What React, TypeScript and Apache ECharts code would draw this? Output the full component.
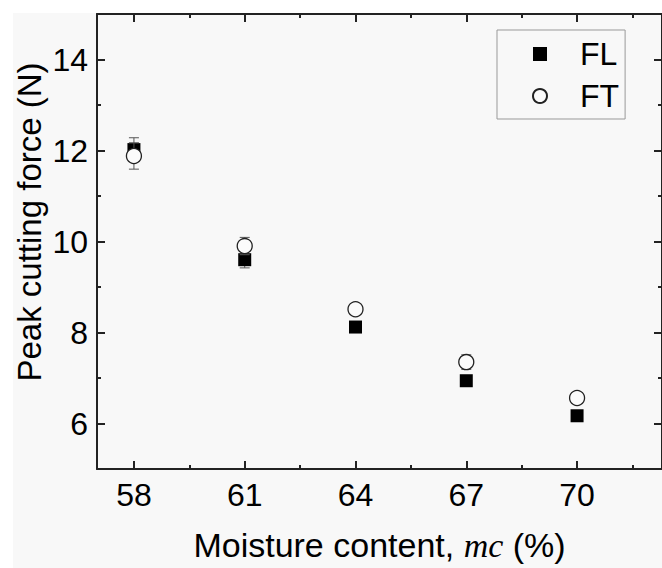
import React, { useEffect, useRef } from "react";
import * as echarts from "echarts";

const moisture = [58, 61, 64, 67, 70];
const flMean = [12.02, 9.6, 8.12, 6.94, 6.17];
const flErr = [0.26, 0.18, 0.05, 0.05, 0.04];
const ftMean = [11.88, 9.9, 8.51, 7.35, 6.56];
const ftErr = [0.29, 0.19, 0.06, 0.16, 0.12];
const xMajorTicks = [58, 61, 64, 67, 70];
const xMinorTicks = [59.5, 62.5, 65.5, 68.5, 71.5];
const yMajorTicks = [6, 8, 10, 12, 14];
const yMinorTicks = [5, 7, 9, 11, 13, 15];

const FONT = "'Liberation Sans', Arial, sans-serif";
const AXIS_COLOR = "#222";

export default function App() {
  const ref = useRef<HTMLDivElement>(null);
  useEffect(() => {
    if (!ref.current) return;
    const chart = echarts.init(ref.current, null, { renderer: "svg" });
    const xBase = { type: "value", min: 57, max: 72.3, splitLine: { show: false } };
    const yBase = { type: "value", min: 5, max: 15, splitLine: { show: false } };
    const line = { show: true, lineStyle: { color: AXIS_COLOR, width: 2 } };
    const noLine = { show: false };
    const major = (vals: number[]) => ({
      show: true,
      inside: true,
      length: 8,
      customValues: vals,
      lineStyle: { color: AXIS_COLOR, width: 2 },
    });
    const minor = (vals: number[]) => ({
      show: true,
      inside: true,
      length: 4,
      customValues: vals,
      lineStyle: { color: AXIS_COLOR, width: 2 },
    });
    const errData = (means: number[], errs: number[]) =>
      moisture.map((x, i) => [x, means[i], errs[i]]);
    const errSeries = (name: string, means: number[], errs: number[], z: number) => ({
      type: "custom",
      name: name + "-err",
      xAxisIndex: 0,
      yAxisIndex: 0,
      z,
      silent: true,
      data: errData(means, errs),
      renderItem: (params: any, api: any) => {
        const x = api.value(0);
        const y = api.value(1);
        const e = api.value(2);
        const top = api.coord([x, y + e]);
        const bot = api.coord([x, y - e]);
        const hw = 5;
        const style = { stroke: "#555", lineWidth: 1 };
        return {
          type: "group",
          children: [
            { type: "line", shape: { x1: top[0], y1: top[1], x2: bot[0], y2: bot[1] }, style },
            { type: "line", shape: { x1: top[0] - hw, y1: top[1], x2: top[0] + hw, y2: top[1] }, style },
            { type: "line", shape: { x1: bot[0] - hw, y1: bot[1], x2: bot[0] + hw, y2: bot[1] }, style },
          ],
        };
      },
    });
    chart.setOption({
      animation: false,
      backgroundColor: "transparent",
      grid: { left: 97, top: 14, width: 566, height: 455, containLabel: false },
      xAxis: [
        {
          ...xBase,
          position: "bottom",
          axisLine: line,
          axisTick: major(xMajorTicks),
          axisLabel: {
            show: true,
            customValues: xMajorTicks,
            fontSize: 32,
            fontFamily: FONT,
            color: "#000",
            margin: 10,
          },
          name: "Moisture content, {i|mc} (%)",
          nameLocation: "middle",
          nameGap: 59,
          nameTextStyle: {
            fontSize: 34,
            fontFamily: FONT,
            color: "#000",
            rich: {
              i: { fontSize: 34, fontStyle: "italic", fontFamily: "'Liberation Serif', 'Times New Roman', serif", color: "#000" },
            },
          },
        },
        { ...xBase, position: "bottom", axisLine: noLine, axisTick: minor(xMinorTicks), axisLabel: { show: false } },
        { ...xBase, position: "top", axisLine: line, axisTick: major(xMajorTicks), axisLabel: { show: false } },
        { ...xBase, position: "top", axisLine: noLine, axisTick: minor(xMinorTicks), axisLabel: { show: false } },
      ],
      yAxis: [
        {
          ...yBase,
          position: "left",
          axisLine: line,
          axisTick: major(yMajorTicks),
          axisLabel: {
            show: true,
            customValues: yMajorTicks,
            fontSize: 32,
            fontFamily: FONT,
            color: "#000",
            margin: 9,
          },
        },
        { ...yBase, position: "left", axisLine: noLine, axisTick: minor(yMinorTicks), axisLabel: { show: false } },
        { ...yBase, position: "right", axisLine: line, axisTick: major(yMajorTicks), axisLabel: { show: false } },
        { ...yBase, position: "right", axisLine: noLine, axisTick: minor(yMinorTicks), axisLabel: { show: false } },
      ],
      legend: {
        orient: "vertical",
        left: 497,
        top: 30,
        padding: [8, 6, 7, 35],
        itemGap: 10,
        itemWidth: 14,
        itemHeight: 14,
        borderColor: "#999",
        borderWidth: 1,
        backgroundColor: "transparent",
        textStyle: { fontSize: 32, lineHeight: 32, fontFamily: FONT, color: "#000", padding: [0, 0, 0, 28] },
        data: [
          { name: "FL", icon: "rect" },
          { name: "FT", icon: "circle" },
        ],
      },
      graphic: [
        {
          type: "text",
          x: 29,
          y: 222,
          rotation: Math.PI / 2,
          style: {
            text: "Peak cutting force (N)",
            fontSize: 33,
            fontFamily: FONT,
            fill: "#000",
            textAlign: "center",
            textVerticalAlign: "middle",
          },
        },
      ],
      series: [
        errSeries("FL", flMean, flErr, 2),
        {
          type: "scatter",
          name: "FL",
          xAxisIndex: 0,
          yAxisIndex: 0,
          symbol: "rect",
          symbolSize: 13,
          z: 3,
          itemStyle: { color: "#000", opacity: 1 },
          data: moisture.map((x, i) => [x, flMean[i]]),
        },
        errSeries("FT", ftMean, ftErr, 4),
        {
          type: "scatter",
          name: "FT",
          xAxisIndex: 0,
          yAxisIndex: 0,
          symbol: "circle",
          symbolSize: 15,
          z: 5,
          itemStyle: { color: "#fbfbfb", borderColor: "#222", borderWidth: 1.3, opacity: 1 },
          data: moisture.map((x, i) => [x, ftMean[i]]),
        },
      ],
    });
    return () => chart.dispose();
  }, []);
  return (
    <div style={{ position: "fixed", left: 0, top: 0, width: 662, height: 568, background: "#fff", overflow: "hidden" }}>
      <div style={{ position: "absolute", left: 13, top: 13, right: 0, bottom: 0, background: "#f8f8f8" }} />
      <div ref={ref} style={{ position: "absolute", left: 0, top: 0, width: 662, height: 568 }} />
    </div>
  );
}
